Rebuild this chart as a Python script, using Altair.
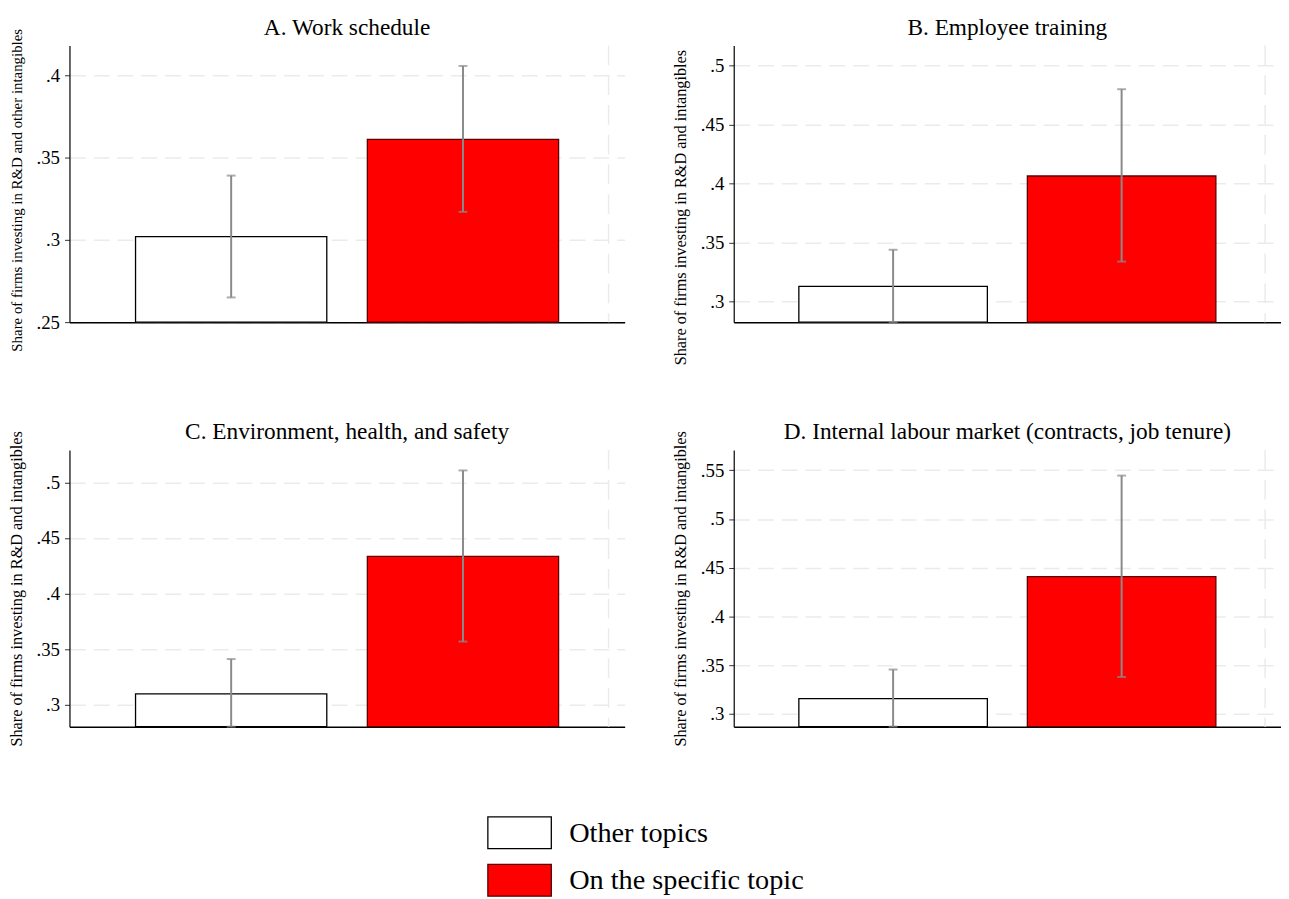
import altair as alt
import pandas as pd

# ---------------- data ----------------
panel_titles = [
    "A. Work schedule",
    "B. Employee training",
    "C. Environment, health, and safety",
    "D. Internal labour market (contracts, job tenure)",
]
axis_titles = [
    "Share of firms investing in R&D and other intangibles",
    "Share of firms investing in R&D and intangibles",
    "Share of firms investing in R&D and intangibles",
    "Share of firms investing in R&D and intangibles",
]
groups = ["Other topics", "On the specific topic"]

mean_other = [0.302, 0.313, 0.310, 0.3157]
mean_specific = [0.361, 0.4065, 0.4335, 0.441]
lo_other = [0.265, 0.2827, 0.2806, 0.287]
hi_other = [0.339, 0.344, 0.3413, 0.3456]
lo_specific = [0.317, 0.334, 0.357, 0.338]
hi_specific = [0.4056, 0.480, 0.5107, 0.5446]

y_min = [0.25, 0.2827, 0.2806, 0.287]
y_max = [0.418, 0.517, 0.529, 0.5708]
y_ticks = [
    [0.25, 0.3, 0.35, 0.4],
    [0.3, 0.35, 0.4, 0.45, 0.5],
    [0.3, 0.35, 0.4, 0.45, 0.5],
    [0.3, 0.35, 0.4, 0.45, 0.5, 0.55],
]

# ---------------- style ----------------
FONT = "Liberation Serif"
BAR_FILL = ["#ffffff", "#ff0000"]
BAR_STROKE = ["#000000", "#5a0000"]
ERR_COLOR = "#8a8a8a"
GRID_COLOR = "#ebebeb"


def panel(i, width, height, title_size, title_y=None):
    df = pd.DataFrame({
        "group": groups,
        "mean": [mean_other[i], mean_specific[i]],
        "lo": [lo_other[i], lo_specific[i]],
        "hi": [hi_other[i], hi_specific[i]],
        "base": [y_min[i], y_min[i]],
    })
    yscale = alt.Scale(domain=[y_min[i], y_max[i]], zero=False, nice=False)
    xenc = alt.X(
        "group:N", sort=groups,
        scale=alt.Scale(paddingInner=0.175, paddingOuter=0.285),
        axis=alt.Axis(title=None, labels=False, ticks=False, grid=False,
                      domainColor="#000000", domainWidth=1.5),
    )
    axis_kwargs = dict(
        title=axis_titles[i], values=y_ticks[i],
        labelExpr="substring(format(datum.value, '.2~f'), 1)",
        labelFont=FONT, labelFontSize=19, labelColor="#000000",
        titleFont=FONT, titleFontSize=title_size, titleFontWeight="normal",
        titleColor="#000000", titlePadding=12,
        grid=True, gridColor=GRID_COLOR, gridWidth=1.5, gridDash=[16, 8],
        domainColor="#000000", domainWidth=1.2,
        tickColor="#333333", tickSize=5, labelPadding=5,
    )
    if title_y is not None:
        axis_kwargs["titleY"] = title_y
    yaxis = alt.Axis(**axis_kwargs)

    base = alt.Chart(df)
    bars = base.mark_bar(strokeWidth=1.3).encode(
        x=xenc,
        y=alt.Y("mean:Q", scale=yscale, axis=yaxis),
        y2="base:Q",
        fill=alt.Fill("group:N", scale=alt.Scale(domain=groups, range=BAR_FILL), legend=None),
        stroke=alt.Stroke("group:N", scale=alt.Scale(domain=groups, range=BAR_STROKE), legend=None),
    )
    rule = base.mark_rule(color=ERR_COLOR, strokeWidth=2).encode(
        x=xenc, y=alt.Y("lo:Q", scale=yscale, axis=yaxis), y2="hi:Q"
    )
    cap_lo = base.mark_tick(color=ERR_COLOR, size=9, thickness=2).encode(
        x=xenc, y=alt.Y("lo:Q", scale=yscale, axis=yaxis)
    )
    cap_hi = base.mark_tick(color=ERR_COLOR, size=9, thickness=2).encode(
        x=xenc, y=alt.Y("hi:Q", scale=yscale, axis=yaxis)
    )
    vline = alt.Chart(pd.DataFrame({"k": [0]})).mark_rule(
        color=GRID_COLOR, strokeWidth=1.5, strokeDash=[20, 10]
    ).encode(x=alt.value(width * 0.971), y=alt.value(0), y2=alt.value(height))
    title_txt = alt.Chart(pd.DataFrame({"t": [panel_titles[i]]})).mark_text(
        fontSize=23.5, font=FONT, baseline="alphabetic", align="center", color="#000000"
    ).encode(x=alt.value(width / 2), y=alt.value(-11), text="t:N")
    return alt.layer(vline, bars, rule, cap_lo, cap_hi, title_txt).properties(
        width=width, height=height
    )


pA = panel(0, 560, 279, 15, title_y=145.5)
pB = panel(1, 552, 279, 16.4, title_y=163)
pC = panel(2, 560, 279, 16.4)
pD = panel(3, 552, 279, 16.4)

# ---------------- legend ----------------
leg_df = pd.DataFrame({"label": groups})
yleg = alt.Y("label:N", sort=groups, scale=alt.Scale(paddingInner=1 / 3, paddingOuter=0), axis=None)
leg_rects = alt.Chart(leg_df).mark_rect(strokeWidth=1.3).encode(
    x=alt.value(0), x2=alt.value(64), y=yleg,
    fill=alt.Fill("label:N", scale=alt.Scale(domain=groups, range=BAR_FILL), legend=None),
    stroke=alt.Stroke("label:N", scale=alt.Scale(domain=groups, range=BAR_STROKE), legend=None),
)
leg_text = alt.Chart(leg_df).mark_text(
    align="left", baseline="middle", fontSize=28.5, font=FONT, color="#000000"
).encode(x=alt.value(82), y=yleg, text="label:N")
legend = alt.layer(leg_rects, leg_text).properties(width=378, height=80)

row1 = alt.hconcat(pA, pB, spacing=48)
row2 = alt.hconcat(pC, pD, spacing=48)
grid = alt.vconcat(row1, row2, spacing=55)

chart = alt.vconcat(grid, legend, spacing=70, center=True).properties(
    padding={"left": 0, "top": 4, "right": 0, "bottom": 0}
).configure(font=FONT).configure_view(strokeWidth=0).configure_axisX(grid=False)

chart.save("out.html", embed_options={"renderer": "svg", "actions": False})
